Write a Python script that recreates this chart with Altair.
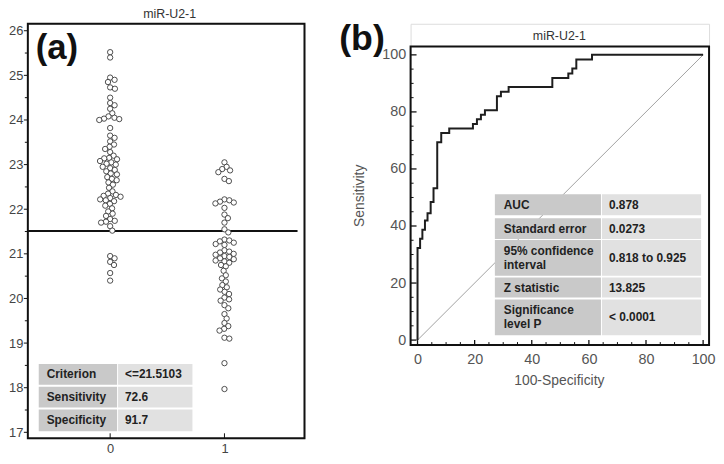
import altair as alt
import numpy as np
import pandas as pd

# ---------------- data ----------------
group0_values = [
    25.52, 25.40,
    24.95, 24.90, 24.85, 24.73, 24.70,
    24.50, 24.38, 24.33, 24.25, 24.15, 24.08, 24.05, 24.03, 24.02, 24.00,
    23.82, 23.65, 23.60, 23.52, 23.45, 23.40, 23.35, 23.28, 23.20,
    23.15, 23.14, 23.12, 23.08, 23.05, 23.02, 23.00, 22.95, 22.92, 22.88,
    22.85, 22.80, 22.78, 22.72, 22.68, 22.65, 22.60, 22.55,
    22.48, 22.40, 22.35, 22.32, 22.30, 22.28, 22.25, 22.22, 22.20, 22.18,
    22.12, 22.08, 22.02, 21.95, 21.90,
    21.85, 21.78, 21.74, 21.72, 21.70, 21.62, 21.52,
    20.95, 20.90, 20.82, 20.75, 20.57, 20.40,
]
group1_values = [
    23.05, 22.95, 22.90, 22.87, 22.83, 22.68, 22.63,
    22.22, 22.20, 22.17, 22.15, 22.13, 22.03, 21.88, 21.80, 21.70, 21.55,
    21.48, 21.32, 21.30, 21.28, 21.25, 21.22, 21.20,
    21.08, 21.05, 21.03, 21.00, 20.98, 20.95, 20.93, 20.90, 20.88, 20.85,
    20.83, 20.80,
    20.75, 20.72, 20.62, 20.52, 20.45, 20.38, 20.30, 20.25, 20.20, 20.15,
    20.10, 20.02, 19.98, 19.95,
    19.85, 19.78, 19.65, 19.55, 19.45, 19.38, 19.32, 19.28, 19.12, 19.10,
    18.55, 17.97,
]
criterion = 21.5103

roc_fpr = [0, 0, 0.9, 0.9, 1.7, 1.7, 2.6, 2.6, 3.5, 3.5, 4.6, 4.6, 5.6, 5.6,
           6.9, 6.9, 8.3, 8.3, 11.1, 11.1, 19.4, 19.4, 20.8, 20.8, 22.2, 22.2,
           23.6, 23.6, 27.8, 27.8, 29.2, 29.2, 31.9, 31.9, 47.2, 47.2, 52.8,
           52.8, 54.2, 54.2, 55.6, 55.6, 61.1, 61.1, 100]
roc_tpr = [0, 32.3, 32.3, 35.5, 35.5, 38.7, 38.7, 41.9, 41.9, 44.5, 44.5,
           48.4, 48.4, 53.2, 53.2, 69.4, 69.4, 72.6, 72.6, 74.2, 74.2, 75.8,
           75.8, 77.4, 77.4, 79.0, 79.0, 80.6, 80.6, 85.5, 85.5, 87.1, 87.1,
           88.7, 88.7, 91.9, 91.9, 93.5, 93.5, 95.2, 95.2, 98.4, 98.4, 100, 100]
diag_fpr = [0, 100]
diag_tpr = [0, 100]

a_ticks = [17, 18, 19, 20, 21, 22, 23, 24, 25, 26]
b_ticks = [0, 20, 40, 60, 80, 100]

table_a_labels = ["Criterion", "Sensitivity", "Specificity"]
table_a_values = ["<=21.5103", "72.6", "91.7"]
table_b_labels = ["AUC", "Standard error", "95% confidence\ninterval",
                  "Z statistic", "Significance\nlevel P"]
table_b_values = ["0.878", "0.0273", "0.818 to 0.925", "13.825", "< 0.0001"]

title_text = "miR-U2-1"

# ---------------- layout / style ----------------
FONT = "Liberation Sans"
WA, HA = 279, 418
WB, HB = 301, 324
A_X = [-0.72, 1.70]
A_Y = [16.867, 26.156]
B_X = [-2.43, 102.08]
B_Y = [-1.74, 110.9]
DARK_CELL = "#c9c9c9"
LIGHT_CELL = "#e1e1e1"
LABEL_COLOR = "#444444"
LINE_H = 14


def swarm_offsets(values, d, ppu):
    vals = np.asarray(values, dtype=float)
    order = np.argsort(-vals, kind="stable")
    placed = []
    offs = np.zeros(len(vals))
    for i in order:
        y = vals[i] * ppu
        cands = [0.0]
        for (yj, xj) in placed:
            dy = abs(y - yj)
            if dy < d:
                dx = np.sqrt(d * d - dy * dy)
                cands += [xj + dx, xj - dx]
        cands.sort(key=lambda c: (abs(c), -c))
        chosen = 0.0
        for c in cands:
            if all((c - xj) ** 2 + (y - yj) ** 2 >= d * d - 1e-6 for (yj, xj) in placed):
                chosen = c
                break
        placed.append((y, chosen))
        offs[i] = chosen
    return offs


ppu_y = HA / (A_Y[1] - A_Y[0])
ppu_x = WA / (A_X[1] - A_X[0])
rows = []
for g, vals in ((0, group0_values), (1, group1_values)):
    offs = swarm_offsets(vals, 5.0, ppu_y)
    for v, o in zip(vals, offs):
        rows.append({"group": g, "value": v, "xpos": g + o / ppu_x})
dots_df = pd.DataFrame(rows)

one = pd.DataFrame({"k": [0]})


def cell_text(text, x, yc, **kw):
    n = text.count("\n") + 1
    return alt.Chart(one).mark_text(
        text=text, font=FONT, fontSize=12, fontWeight="bold", color="#222",
        align="left", baseline="middle", lineBreak="\n", lineHeight=LINE_H, **kw
    ).encode(x=alt.value(x), y=alt.value(yc - (n - 1) * LINE_H / 2))


# ---------------- panel (a) ----------------
xa = alt.X("xpos:Q", title=None,
           scale=alt.Scale(domain=A_X, nice=False, zero=False),
           axis=alt.Axis(values=[0, 1], ticks=False, domain=False, grid=False,
                         labelFontSize=13, labelColor=LABEL_COLOR, labelFont=FONT,
                         labelPadding=4, format="d", title=None))
ya = alt.Y("value:Q", title=None,
           scale=alt.Scale(domain=A_Y, nice=False, zero=False),
           axis=alt.Axis(values=a_ticks, ticks=False, domain=False, grid=False,
                         labelFontSize=13, labelColor=LABEL_COLOR, labelFont=FONT,
                         labelPadding=5, title=None))

a_layers = []
# table
for r, (lab, val) in enumerate(zip(table_a_labels, table_a_values)):
    y0 = 343 + r * 23
    y1 = y0 + 21 if r < 2 else y0 + 22
    a_layers.append(alt.Chart(one).mark_rect(color=DARK_CELL).encode(
        x=alt.value(11), x2=alt.value(90), y=alt.value(y0), y2=alt.value(y1)))
    a_layers.append(alt.Chart(one).mark_rect(color=LIGHT_CELL).encode(
        x=alt.value(91), x2=alt.value(166), y=alt.value(y0), y2=alt.value(y1)))
    a_layers.append(cell_text(lab, 19, (y0 + y1) / 2))
    a_layers.append(cell_text(val, 98, (y0 + y1) / 2))

crit_df = pd.DataFrame({"value": [criterion]})
a_layers.append(alt.Chart(crit_df).mark_rule(color="#111", strokeWidth=2).encode(
    y=ya, x=alt.value(0), x2=alt.value(WA - 7)))

a_layers.append(alt.Chart(dots_df).mark_circle(
    fill="white", fillOpacity=1, stroke="#3a3a3a", strokeWidth=0.9, size=29,
    opacity=1).encode(x=xa, y=ya))

# ticks (manual)
tick_rows = [{"value": v, "major": True} for v in a_ticks] + \
            [{"value": v + 0.5, "major": False} for v in a_ticks[:-1]]
ticks_a = pd.DataFrame(tick_rows)
a_layers.append(alt.Chart(ticks_a[ticks_a.major]).mark_rule(color="#111", strokeWidth=1).encode(
    y=ya, x=alt.value(-4), x2=alt.value(0)))
a_layers.append(alt.Chart(ticks_a[~ticks_a.major]).mark_rule(color="#111", strokeWidth=1).encode(
    y=ya, x=alt.value(-3), x2=alt.value(0)))
xt_a = pd.DataFrame({"xpos": [0, 1]})
a_layers.append(alt.Chart(xt_a).mark_rule(color="#111", strokeWidth=1).encode(
    x=xa, y=alt.value(HA), y2=alt.value(HA - 5)))

# frame
a_layers.append(alt.Chart(one).mark_rect(fillOpacity=0, stroke="#111", strokeWidth=2).encode(
    x=alt.value(0), x2=alt.value(WA), y=alt.value(0), y2=alt.value(HA)))

# texts
a_layers.append(alt.Chart(one).mark_text(
    text=title_text, font=FONT, fontSize=12.5, color="#333", align="center",
    baseline="alphabetic").encode(x=alt.value(143), y=alt.value(-6)))
a_layers.append(alt.Chart(one).mark_text(
    text="(a)", font=FONT, fontSize=35, fontWeight="bold", color="#111", align="left",
    baseline="alphabetic").encode(x=alt.value(8), y=alt.value(36)))

panel_a = alt.layer(*a_layers).properties(width=WA, height=HA)

# ---------------- panel (b) ----------------
xb = alt.X("fpr:Q", title=None,
           scale=alt.Scale(domain=B_X, nice=False, zero=False),
           axis=alt.Axis(values=b_ticks, ticks=False, domain=False, grid=False,
                         labelFontSize=14.5, labelColor="#555", labelFont=FONT,
                         labelPadding=8, title=None))
yb = alt.Y("tpr:Q", title=None,
           scale=alt.Scale(domain=B_Y, nice=False, zero=False),
           axis=alt.Axis(values=b_ticks, ticks=False, domain=False, grid=False,
                         labelFontSize=14.5, labelColor="#555", labelFont=FONT,
                         labelPadding=5, title=None))

TOP = 23  # pixel of the top frame line
b_layers = []
diag_df = pd.DataFrame({"fpr": diag_fpr, "tpr": diag_tpr})
b_layers.append(alt.Chart(diag_df).mark_line(color="#8a8a8a", strokeWidth=0.8).encode(
    x=xb, y=yb))

# table
row_y = [(172, 193), (196, 217), (218, 254), (256, 276), (278, 314)]
for (y0, y1), lab, val in zip(row_y, table_b_labels, table_b_values):
    b_layers.append(alt.Chart(one).mark_rect(color=DARK_CELL).encode(
        x=alt.value(85), x2=alt.value(192), y=alt.value(y0), y2=alt.value(y1)))
    b_layers.append(alt.Chart(one).mark_rect(color=LIGHT_CELL).encode(
        x=alt.value(193), x2=alt.value(293), y=alt.value(y0), y2=alt.value(y1)))
    b_layers.append(cell_text(lab, 94, (y0 + y1) / 2))
    b_layers.append(cell_text(val, 200, (y0 + y1) / 2))

roc_df = pd.DataFrame({"fpr": roc_fpr, "tpr": roc_tpr, "i": range(len(roc_fpr))})
b_layers.append(alt.Chart(roc_df).mark_line(color="#1e1e1e", strokeWidth=2).encode(
    x=xb, y=yb, order="i:Q"))

# ticks (manual, inward)
steps = list(range(0, 101, 5))
bt = pd.DataFrame({"tpr": steps, "fpr": steps, "major": [s % 20 == 0 for s in steps]})
b_layers.append(alt.Chart(bt[bt.major]).mark_rule(color="#111", strokeWidth=1.3).encode(
    y=yb, x=alt.value(0), x2=alt.value(6)))
b_layers.append(alt.Chart(bt[~bt.major]).mark_rule(color="#111", strokeWidth=1).encode(
    y=yb, x=alt.value(0), x2=alt.value(3)))
b_layers.append(alt.Chart(bt[bt.major]).mark_rule(color="#111", strokeWidth=1.3).encode(
    x=xb, y=alt.value(HB), y2=alt.value(HB - 5)))
b_layers.append(alt.Chart(bt[~bt.major]).mark_rule(color="#111", strokeWidth=1).encode(
    x=xb, y=alt.value(HB), y2=alt.value(HB - 3)))

# frame
b_layers.append(alt.Chart(one).mark_rect(fillOpacity=0, stroke="#111", strokeWidth=2).encode(
    x=alt.value(0), x2=alt.value(WB), y=alt.value(TOP), y2=alt.value(HB)))

# texts
b_layers.append(alt.Chart(one).mark_text(
    text=title_text, font=FONT, fontSize=12.5, color="#333", align="center",
    baseline="alphabetic").encode(x=alt.value(150), y=alt.value(16)))
b_layers.append(alt.Chart(one).mark_text(
    text="Sensitivity", font=FONT, fontSize=14, color="#555", align="center",
    baseline="middle", angle=270).encode(x=alt.value(-51), y=alt.value(173.5)))
b_layers.append(alt.Chart(one).mark_text(
    text="100-Specificity", font=FONT, fontSize=14, color="#555", align="center",
    baseline="middle").encode(x=alt.value(150), y=alt.value(360)))
b_layers.append(alt.Chart(one).mark_text(
    text="(b)", font=FONT, fontSize=36, fontWeight="bold", color="#111", align="left",
    baseline="alphabetic").encode(x=alt.value(-72), y=alt.value(26)))

panel_b = alt.layer(*b_layers).properties(width=WB, height=HB)

chart = alt.hconcat(panel_a, panel_b, spacing=107, bounds="flush").properties(
    padding={"left": 0, "top": -3, "right": 0, "bottom": 0}
).configure_view(stroke=None).configure(background="white")

chart.save("out.html", embed_options={"renderer": "svg", "actions": False})
